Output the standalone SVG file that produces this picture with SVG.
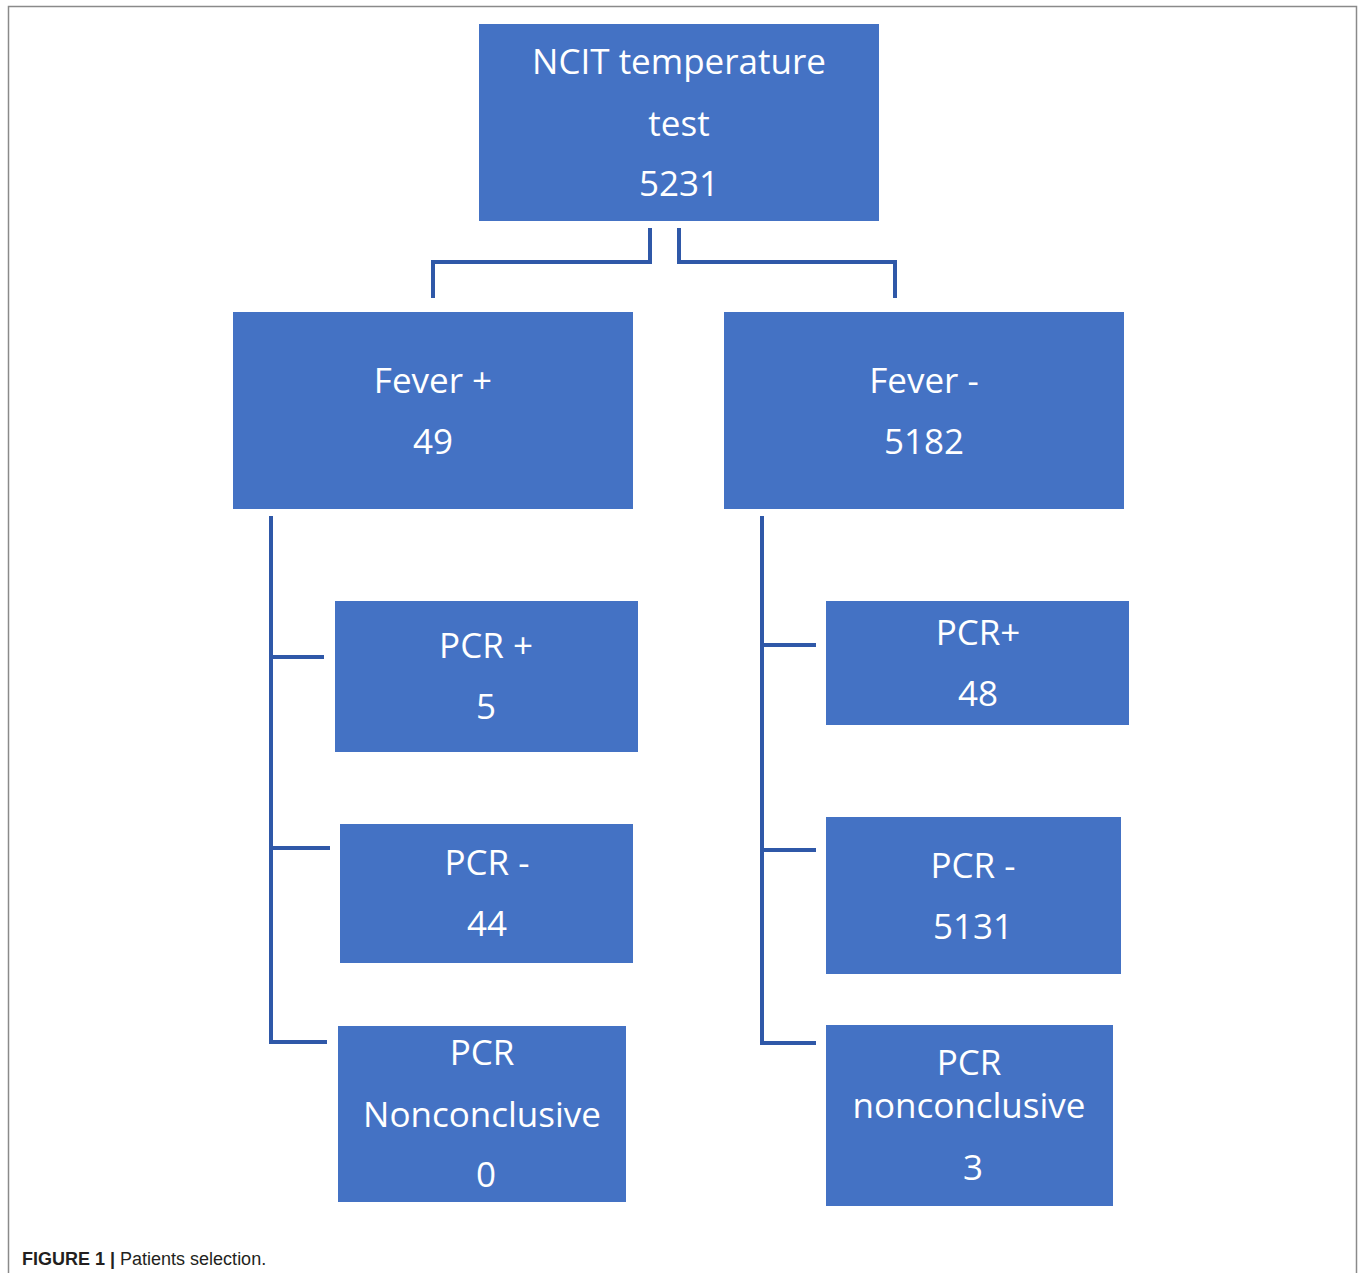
<svg xmlns="http://www.w3.org/2000/svg" width="1358" height="1273" viewBox="0 0 1358 1273">
<style>
.box{fill:#4472C4;}
.t{font-family:"Open Sans",Lato,sans-serif;font-size:35px;fill:#ffffff;text-anchor:middle;}
.c{fill:none;stroke:#2F58A8;stroke-width:4;}
.cap{font-family:"Liberation Sans",Arial,sans-serif;font-size:18px;fill:#231f20;}
</style>
<rect x="0" y="0" width="1358" height="1273" fill="#ffffff"/>
<path d="M8.5 1273 V6.5 H1356.5 V1273" fill="none" stroke="#8a8a8a" stroke-width="1.5"/>
<g id="connectors">
<path class="c" d="M650 228 V262 H433 V298"/>
<path class="c" d="M679 228 V262 H895 V298"/>
<path class="c" d="M271 516 V1042 H327"/>
<path class="c" d="M271 657 H324"/>
<path class="c" d="M271 848 H330"/>
<path class="c" d="M762 516 V1043 H816"/>
<path class="c" d="M762 645 H816"/>
<path class="c" d="M762 850 H816"/>
</g>
<g id="n_ncit">
<rect class="box" x="479" y="24" width="400" height="197"/>
<text class="t" x="679" y="74">NCIT temperature</text>
<text class="t" x="679" y="136">test</text>
<text class="t" x="679" y="196">5231</text>
</g>
<g id="n_feverpos">
<rect class="box" x="233" y="312" width="400" height="197"/>
<text class="t" x="433" y="393">Fever +</text>
<text class="t" x="433" y="454">49</text>
</g>
<g id="n_feverneg">
<rect class="box" x="724" y="312" width="400" height="197"/>
<text class="t" x="924" y="393">Fever -</text>
<text class="t" x="924" y="454">5182</text>
</g>
<g id="n_pcrpos_l">
<rect class="box" x="335" y="601" width="303" height="151"/>
<text class="t" x="486" y="658">PCR +</text>
<text class="t" x="486" y="719">5</text>
</g>
<g id="n_pcrneg_l">
<rect class="box" x="340" y="824" width="293" height="139"/>
<text class="t" x="487" y="875">PCR -</text>
<text class="t" x="487" y="936">44</text>
</g>
<g id="n_pcrnc_l">
<rect class="box" x="338" y="1026" width="288" height="176"/>
<text class="t" x="482" y="1065">PCR</text>
<text class="t" x="482" y="1127">Nonconclusive</text>
<text class="t" x="486" y="1187">0</text>
</g>
<g id="n_pcrpos_r">
<rect class="box" x="826" y="601" width="303" height="124"/>
<text class="t" x="978" y="645">PCR+</text>
<text class="t" x="978" y="706">48</text>
</g>
<g id="n_pcrneg_r">
<rect class="box" x="826" y="817" width="295" height="157"/>
<text class="t" x="973" y="878">PCR -</text>
<text class="t" x="973" y="939">5131</text>
</g>
<g id="n_pcrnc_r">
<rect class="box" x="826" y="1025" width="287" height="181"/>
<text class="t" x="969" y="1075">PCR</text>
<text class="t" x="969" y="1118">nonconclusive</text>
<text class="t" x="973" y="1180">3</text>
</g>
<text class="cap" x="22" y="1265"><tspan font-weight="bold">FIGURE 1 |</tspan> Patients selection.</text>
</svg>
